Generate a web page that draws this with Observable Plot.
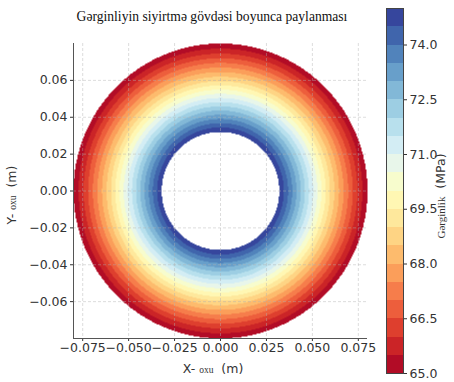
<!DOCTYPE html>
<html><head><meta charset="utf-8">
<script src="https://cdn.jsdelivr.net/npm/d3@7"></script>
<script src="https://cdn.jsdelivr.net/npm/@observablehq/plot@0.6"></script>
<style>
body{margin:0;background:#fff;}
#wrap{position:relative;width:454px;height:382px;overflow:hidden;}
#wrap svg{position:absolute;top:0;}
</style></head><body><div id="wrap"></div>
<script>
const titleText = "Gərginliyin siyirtmə gövdəsi boyunca paylanması";
const xLabelParts = ["X-\u00a0", "oxu", "\u00a0\u00a0(m)"];
const yLabelParts = ["Y-\u00a0", "oxu", "\u00a0\u00a0(m)"];
const cbLabelParts = ["Gərginlik", "\u00a0\u00a0(MPa)"];

// radial stress profile (radius in m, stress in MPa)
const radii  = [0.032, 0.035, 0.040, 0.045, 0.050, 0.055, 0.060, 0.065, 0.070, 0.075, 0.080];
const stress = [75.0, 74.4, 73.3, 72.2, 71.1, 70.0, 68.9, 67.9, 66.9, 65.9, 65.0];

const levels = [65, 65.5, 66, 66.5, 67, 67.5, 68, 68.5, 69, 69.5, 70, 70.5, 71, 71.5, 72, 72.5, 73, 73.5, 74, 74.5, 75];
const xTicks = [-0.075, -0.05, -0.025, 0, 0.025, 0.05, 0.075];
const yTicks = [-0.06, -0.04, -0.02, 0, 0.02, 0.04, 0.06];
const cbTicks = [65, 66.5, 68, 69.5, 71, 72.5, 74];

const lim = 0.08;
const cmap = d3.piecewise(d3.interpolateRgb, d3.schemeRdYlBu[11]);
const vmin = levels[0], vmax = levels[levels.length - 1];
const bands = levels.slice(0, -1).map((lo, i) => ({lo, hi: levels[i + 1], mid: (lo + levels[i + 1]) / 2}));
const colorOpts = {
  type: "threshold",
  domain: levels.slice(1, -1),
  range: bands.map(b => cmap((b.mid - vmin) / (vmax - vmin)))
};

const sigma = d3.scaleLinear().domain(radii).range(stress);
const rIn = radii[0], rOut = radii[radii.length - 1];

const tickFont = {fontFamily: "DejaVu Sans, sans-serif", fontSize: "12.5px", color: "#333", background: "transparent", overflow: "visible"};

const main = Plot.plot({
  width: 384, height: 382,
  marginLeft: 73, marginRight: 17, marginTop: 43, marginBottom: 44,
  x: {domain: [-lim, lim]},
  y: {domain: [-lim, lim]},
  color: colorOpts,
  style: tickFont,
  marks: [
    Plot.raster({
      x1: -lim, x2: lim, y1: -lim, y2: lim, pixelSize: 1,
      fill: (x, y) => { const r = Math.hypot(x, y); return (r >= rIn && r <= rOut) ? sigma(r) : NaN; }
    }),
    Plot.gridX(xTicks, {stroke: "#b0b0b0", strokeOpacity: 0.55, strokeWidth: 0.8, strokeDasharray: "3,2"}),
    Plot.gridY(yTicks, {stroke: "#b0b0b0", strokeOpacity: 0.55, strokeWidth: 0.8, strokeDasharray: "3,2"}),
    Plot.axisX(xTicks, {tickFormat: d3.format(".3f"), tickSize: 3, tickPadding: 2, label: null}),
    Plot.axisY(yTicks, {tickFormat: d3.format(".2f"), tickSize: 3, tickPadding: 3, label: null}),
    Plot.ruleX([-lim], {stroke: "#555"}),
    Plot.ruleY([-lim], {stroke: "#555"})
  ]
});
main.style.left = "0px";

const cb = Plot.plot({
  width: 70, height: 382,
  marginLeft: 2, marginRight: 51, marginTop: 8, marginBottom: 9,
  x: {domain: [0, 1], axis: null},
  y: {domain: [vmin, vmax]},
  color: colorOpts,
  style: tickFont,
  marks: [
    Plot.rect(bands, {x1: 0, x2: 1, y1: "lo", y2: "hi", fill: "mid", shapeRendering: "crispEdges"}),
    Plot.frame({stroke: "#444"}),
    Plot.axisY(cbTicks, {anchor: "right", tickFormat: d3.format(".1f"), tickSize: 3, tickPadding: 3, label: null})
  ]
});
cb.style.left = "384px";

const wrap = document.getElementById("wrap");
wrap.appendChild(main);
wrap.appendChild(cb);

function mixedLabel(svg, parts, fonts, transform, anchor) {
  const t = d3.select(svg).append("text")
    .attr("transform", transform)
    .attr("text-anchor", anchor)
    .attr("fill", "#333");
  parts.forEach((p, i) => {
    t.append("tspan").text(p)
      .attr("font-family", fonts[i][0])
      .attr("font-size", fonts[i][1]);
  });
  return t;
}
const sans = ["DejaVu Sans", "12.5px"], serif = ["Liberation Serif", "9.5px"], serifCb = ["Liberation Serif", "11px"];

d3.select(main).append("text")
  .attr("x", 212).attr("y", 21)
  .attr("text-anchor", "middle")
  .attr("font-family", "Liberation Serif")
  .attr("font-size", "13.6px")
  .attr("fill", "#111")
  .text(titleText);

mixedLabel(main, xLabelParts, [sans, serif, sans], "translate(213,373)", "middle");
mixedLabel(main, yLabelParts, [sans, serif, sans], "translate(12,195) rotate(-90)", "middle").attr("dy", "0.35em");
mixedLabel(cb, cbLabelParts, [serifCb, sans], "translate(57,196) rotate(-90)", "middle").attr("dy", "0.35em");
</script></body></html>
